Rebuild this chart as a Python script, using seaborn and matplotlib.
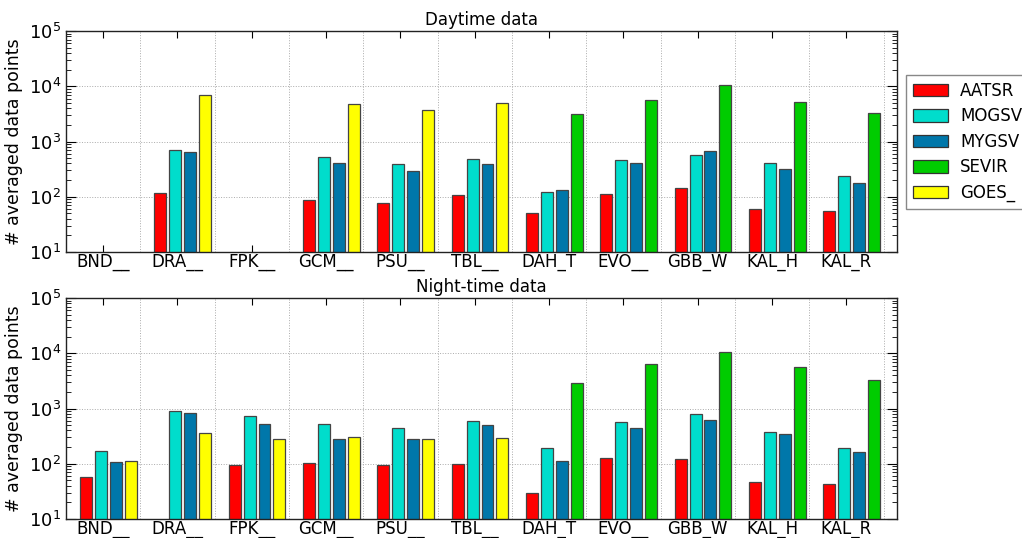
import numpy as np
import pandas as pd
import matplotlib
matplotlib.use("Agg")
import matplotlib.pyplot as plt
from matplotlib.patches import Patch
import seaborn as sns

# ---- data ----
stations = ["BND__", "DRA__", "FPK__", "GCM__", "PSU__", "TBL__",
            "DAH_T", "EVO__", "GBB_W", "KAL_H", "KAL_R"]
series = ["AATSR", "MOGSV", "MYGSV", "SEVIR", "GOES_"]
colors = ["#ff0000", "#00ddcc", "#0077aa", "#00cc00", "#ffff00"]
nan = np.nan

day_aatsr = [nan, 116, nan, 88, 78, 108, 51, 113, 143, 61, 56]
day_mogsv = [nan, 713, nan, 526, 398, 484, 123, 458, 571, 404, 239]
day_mygsv = [nan, 647, nan, 416, 294, 387, 135, 404, 675, 315, 181]
day_sevir = [nan, nan, nan, nan, nan, nan, 3100, 5700, 10400, 5100, 3270]
day_goes = [nan, 6900, nan, 4690, 3660, 4960, nan, nan, nan, nan, nan]

night_aatsr = [58, nan, 96, 104, 96, 100, 30, 128, 121, 47, 43]
night_mogsv = [167, 883, 737, 514, 441, 590, 192, 566, 790, 368, 189]
night_mygsv = [106, 812, 528, 275, 275, 500, 110, 435, 632, 339, 160]
night_sevir = [nan, nan, nan, nan, nan, nan, 2870, 6410, 10500, 5660, 3250]
night_goes = [110, 353, 275, 303, 275, 291, nan, nan, nan, nan, nan]

# slot of each series inside a group (SEVIR and GOES_ share the 4th slot)
slot = {"AATSR": 0, "MOGSV": 1, "MYGSV": 2, "SEVIR": 3, "GOES_": 3}


def make_df(vals):
    rows = []
    for s, v in zip(series, vals):
        for i, val in enumerate(v):
            if not np.isnan(val):
                rows.append({"pos": i + 0.27 + 0.2 * slot[s], "value": val, "series": s})
    return pd.DataFrame(rows)


day_df = make_df([day_aatsr, day_mogsv, day_mygsv, day_sevir, day_goes])
night_df = make_df([night_aatsr, night_mogsv, night_mygsv, night_sevir, night_goes])
palette = dict(zip(series, colors))

fig = plt.figure(figsize=(10.22, 5.38), dpi=100)
ax1 = fig.add_axes([66 / 1022, 1 - 252 / 538, 831 / 1022, 221 / 538])
ax2 = fig.add_axes([66 / 1022, 1 - 519 / 538, 831 / 1022, 221 / 538])

for ax, df, title in [(ax1, day_df, "Daytime data"), (ax2, night_df, "Night-time data")]:
    sns.barplot(data=df, x="pos", y="value", hue="series", palette=palette,
                hue_order=series, native_scale=True, dodge=False, width=0.8,
                saturation=1, errorbar=None, edgecolor="#444444", linewidth=0.9,
                log_scale=(False, True), legend=False, ax=ax)
    ax.set_yscale("log")
    ax.set_ylim(10, 1e5)
    ax.set_xlim(0, 11.18)
    ax.set_xticks(np.arange(len(stations)) + 0.5)
    ax.set_xticklabels(stations, fontsize=12)
    ax.set_xticks(np.arange(1, 12), minor=True)
    ax.tick_params(axis="x", which="minor", length=0)
    ax.tick_params(axis="x", which="major", direction="in", top=True, bottom=True,
                   length=5, pad=1)
    ax.tick_params(axis="y", which="major", direction="in", left=True, right=True,
                   length=7, labelsize=13)
    ax.tick_params(axis="y", which="minor", direction="in", left=True, right=True,
                   length=3.5)
    ax.grid(which="major", axis="y", ls=":", color="#aaaaaa", lw=0.7)
    ax.grid(which="minor", axis="x", ls=":", color="#aaaaaa", lw=0.7)
    ax.set_axisbelow(True)
    ax.set_xlabel("")
    ax.set_ylabel("# averaged data points", fontsize=12.5)
    ax.set_title(title, fontsize=12, pad=4)
    for sp in ax.spines.values():
        sp.set_color("#222222")
        sp.set_linewidth(1.0)

handles = [Patch(facecolor=c, edgecolor="#333333", linewidth=0.9, label=s)
           for s, c in zip(series, colors)]
leg = fig.legend(handles=handles, loc="upper left",
                 bbox_to_anchor=(906 / 1022, 1 - 75 / 538), borderaxespad=0,
                 fontsize=12, handlelength=2.1, handleheight=0.8,
                 labelspacing=0.45, handletextpad=0.75, borderpad=0.4,
                 fancybox=False, framealpha=1)
leg.get_frame().set_edgecolor("#888888")
leg.get_frame().set_linewidth(1.0)

fig.savefig("out.png", dpi=100)
